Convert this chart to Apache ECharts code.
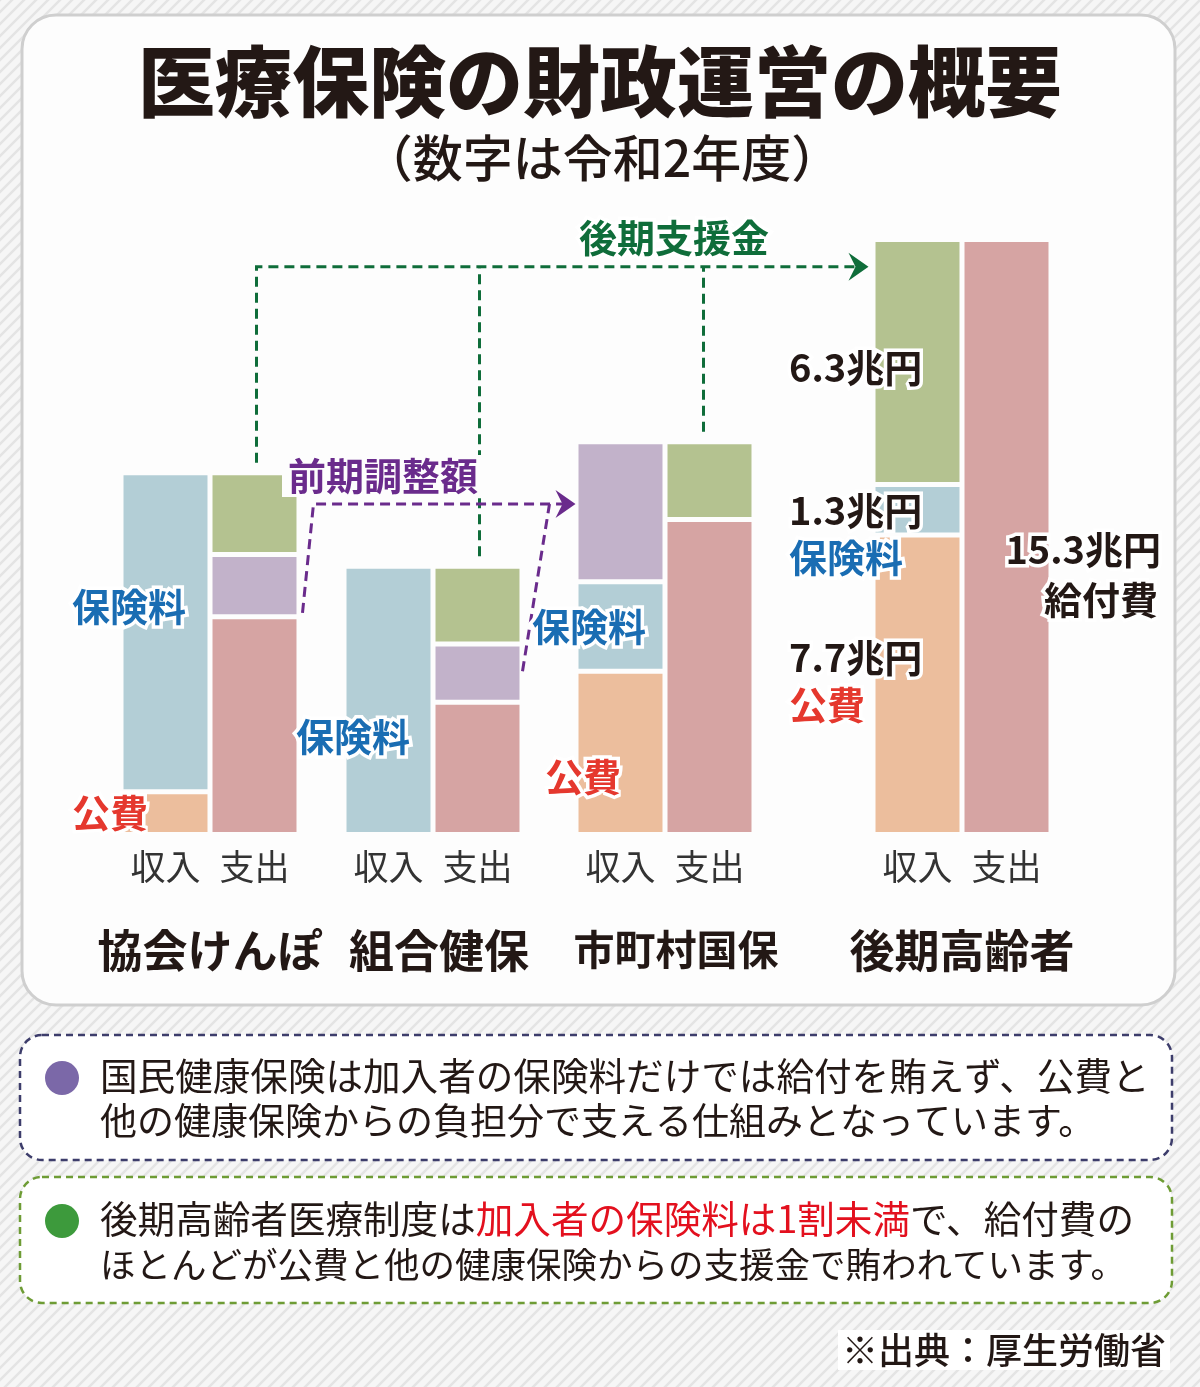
<!DOCTYPE html>
<html>
<head>
<meta charset="utf-8">
<script src="https://cdn.jsdelivr.net/npm/echarts@6/dist/echarts.min.js"></script>
<style>
  html, body { margin: 0; padding: 0; }
  #chart { width: 1200px; height: 1387px; }
</style>
</head>
<body>
<div id="chart"></div>
<script>
// 令和2年度, 単位: 兆円
const groups = ['協会けんぽ', '組合健保', '市町村国保', '後期高齢者']
const sides = ['収入', '支出']
const incPublic = [1.1, 0, 4.2, 7.7]     // 公費
const incPremium = [8.2, 6.9, 2.3, 1.3]  // 保険料
const incZenki = [0, 0, 3.6, 0]          // 前期調整額 (受取)
const incShien = [0, 0, 0, 6.3]          // 後期支援金 (受取)
const expBenefit = [5.6, 3.4, 8.1, 15.3] // 給付費
const expZenki = [1.6, 1.5, 0, 0]        // 前期調整額 (拠出)
const expShien = [2.1, 2.0, 2.0, 0]      // 後期支援金 (拠出)

const FONT = '"Noto Sans CJK JP", "Noto Sans", sans-serif'
const PEACH = '#ecbe9d', BLUE = '#b3ced6', PINK = '#d6a4a3', PURPLE = '#c2b2ca', GREEN = '#b4c290'
const TXT = '#231815', TBLUE = '#1a6db3', TRED = '#e5382e', TPURPLE = '#6a2b8c', TGREEN = '#0f6d3a'

const chart = echarts.init(document.getElementById('chart'))

// striped page background
const pc = document.createElement('canvas')
pc.width = 12; pc.height = 12
const pctx = pc.getContext('2d')
pctx.fillStyle = '#f6f6f6'
pctx.fillRect(0, 0, 12, 12)
pctx.strokeStyle = '#e4e4e4'
pctx.lineWidth = 2.5
;[[-6, 6, 6, -6], [0, 12, 12, 0], [6, 18, 18, 6]].forEach(l => {
  pctx.beginPath(); pctx.moveTo(l[0], l[1]); pctx.lineTo(l[2], l[3]); pctx.stroke()
})

const gridLeft = [121, 344, 576, 873]
const namePad = [[0, 0, 0, 0], [0, 0, 0, 12], [0, 0, 0, 22], [0, 0, 0, 0]]
const nameSize = [45, 45, 41, 45]
const val = v => (v > 0 ? v : '-')

const segments = [
  { color: PEACH, inc: incPublic, exp: null },
  { color: BLUE, inc: incPremium, exp: null },
  { color: PINK, inc: null, exp: expBenefit },
  { color: PURPLE, inc: incZenki, exp: expZenki },
  { color: GREEN, inc: incShien, exp: expShien }
]

let grid = [], xAxis = [], yAxis = [], series = []
groups.forEach((g, i) => {
  grid.push({
    left: gridLeft[i], width: 178, top: 239.5, bottom: 552.5,
    containLabel: false, outerBoundsMode: 'none'
  })
  xAxis.push({
    type: 'category', gridIndex: i, data: sides,
    axisLine: { show: false }, axisTick: { show: false },
    axisLabel: { fontSize: 35, color: '#333', margin: 15, interval: 0, fontFamily: FONT },
    name: g, nameLocation: 'middle', nameGap: 94,
    nameTextStyle: { fontSize: nameSize[i], fontWeight: 'bold', color: TXT, fontFamily: FONT, padding: namePad[i] }
  })
  yAxis.push({ type: 'value', gridIndex: i, min: 0, max: 15.3, show: false })
  segments.forEach(s => {
    series.push({
      type: 'bar', xAxisIndex: i, yAxisIndex: i, stack: 'g' + i,
      barWidth: 89, silent: true,
      data: [s.inc ? val(s.inc[i]) : '-', s.exp ? val(s.exp[i]) : '-'],
      itemStyle: { color: s.color, borderColor: '#fdfdfd', borderWidth: 2.5 }
    })
  })
})

chart.setOption({
  animation: false,
  backgroundColor: { image: pc, repeat: 'repeat' },
  grid: grid, xAxis: xAxis, yAxis: yAxis, series: series
})

// helpers for the annotation layer
const px = (i, side, v) => chart.convertToPixel({ gridIndex: i }, [side, v])
const txt = (text, x, y, size, fill, extra) => Object.assign({
  type: 'text', x: x, y: y, z: 100,
  style: Object.assign({
    text: text, fill: fill, align: 'left', verticalAlign: 'middle',
    font: 'bold ' + size + 'px ' + FONT
  }, extra || {})
})
const halo = { stroke: '#ffffff', lineWidth: 7 }
const dashLine = (pts, color) => ({
  type: 'polyline', z: 50, shape: { points: pts },
  style: { stroke: color, lineWidth: 3, lineDash: [10, 6], fill: null }
})
const arrowHead = (x, y, color) => ({
  type: 'polygon', z: 51,
  shape: { points: [[x, y], [x - 20, y - 14], [x - 13, y], [x - 20, y + 14]] },
  style: { fill: color }
})

const totalExp = i => expBenefit[i] + expZenki[i] + expShien[i]

// 後期支援金 arrows
const gY = px(3, '収入', 14.6)[1]
const gTip = px(3, '収入', 14.6)[0] - 42 - 7
const drops = [0, 1, 2].map(i => {
  const p = px(i, '支出', totalExp(i))
  return [p[0] + (i === 2 ? -6 : 2), p[1] - 10]
})
const greenLines = [
  dashLine([[drops[0][0], drops[0][1]], [drops[0][0], gY], [gTip - 12, gY]], TGREEN),
  dashLine([[drops[1][0], drops[1][1]], [drops[1][0], gY]], TGREEN),
  dashLine([[drops[2][0], drops[2][1]], [drops[2][0], gY]], TGREEN),
  arrowHead(gTip, gY, TGREEN)
]

// 前期調整額 arrows
const pY = px(2, '収入', 8.5)[1]
const pTip = px(2, '収入', 8.5)[0] - 42 - 3
const s1 = [px(0, '支出', 0)[0] + 48, px(0, '支出', 5.7)[1]]
const s2 = [px(1, '支出', 0)[0] + 45, px(1, '支出', 4.2)[1]]
const purpleLines = [
  dashLine([s1, [s1[0] + 11, pY], [pTip - 12, pY]], TPURPLE),
  dashLine([s2, [s2[0] + 27, pY]], TPURPLE),
  arrowHead(pTip, pY, TPURPLE)
]

const body = size => '400 ' + size + 'px ' + FONT

const graphic = [
  {
    type: 'rect', z: 0,
    shape: { x: 22, y: 15, width: 1153, height: 990, r: 34 },
    style: { fill: '#fdfdfd', stroke: '#cfcfcf', lineWidth: 3 }
  },
  txt('医療保険の財政運営の概要', 600, 82, 77, TXT, { align: 'center', font: '900 77px ' + FONT }),
  txt('（数字は令和2年度）', 602, 158, 50, TXT, { align: 'center', font: '500 50px ' + FONT }),
  ...greenLines,
  ...purpleLines,
  txt('後期支援金', 674, 238, 38, TGREEN, Object.assign({ align: 'center' }, halo)),
  txt('前期調整額', 383, 476, 38, TPURPLE, {
    align: 'center', backgroundColor: '#fdfdfd', padding: [2, 6, 2, 6]
  }),
  // 協会けんぽ
  txt('保険料', 72, 607, 38, TBLUE, halo),
  txt('公費', 72, 813, 38, TRED, halo),
  // 組合健保
  txt('保険料', 296, 737, 38, TBLUE, halo),
  // 市町村国保
  txt('保険料', 532, 627, 38, TBLUE, halo),
  txt('公費', 545, 777, 38, TRED, halo),
  // 後期高齢者
  txt('6.3兆円', 789, 368, 38, TXT, halo),
  txt('1.3兆円', 789, 511, 38, TXT, halo),
  txt('保険料', 789, 558, 38, TBLUE, halo),
  txt('7.7兆円', 789, 658, 38, TXT, halo),
  txt('公費', 789, 705, 38, TRED, halo),
  txt('15.3兆円', 1161, 550, 38, TXT, Object.assign({ align: 'right' }, halo)),
  txt('給付費', 1158, 600, 38, TXT, Object.assign({ align: 'right' }, halo)),
  // note boxes
  {
    type: 'rect', z: 0,
    shape: { x: 20, y: 1035, width: 1152, height: 125, r: 22 },
    style: { fill: '#ffffff', stroke: '#3d3d6b', lineWidth: 2.5, lineDash: [7, 5] }
  },
  { type: 'circle', z: 10, shape: { cx: 62, cy: 1078, r: 17 }, style: { fill: '#7b68a8' } },
  txt('国民健康保険は加入者の保険料だけでは給付を賄えず、公費と', 100, 1076, 37, TXT, { font: body(37.6) }),
  txt('他の健康保険からの負担分で支える仕組みとなっています。', 100, 1121, 37, TXT, { font: body(37) }),
  {
    type: 'rect', z: 0,
    shape: { x: 20, y: 1177, width: 1152, height: 126, r: 22 },
    style: { fill: '#ffffff', stroke: '#6e9c35', lineWidth: 2.5, lineDash: [7, 5] }
  },
  { type: 'circle', z: 10, shape: { cx: 62, cy: 1221, r: 17 }, style: { fill: '#3d9a3c' } },
  txt('後期高齢者医療制度は{r|加入者の保険料は1割未満}で、給付費の', 100, 1219, 37, TXT, {
    font: body(37.6),
    rich: { r: { fill: '#e3101e', font: body(37.6) } }
  }),
  txt('ほとんどが公費と他の健康保険からの支援金で賄われています。', 100, 1265, 36, TXT, { font: body(35.5) }),
  txt('※出典：厚生労働省', 1170, 1350, 36, TXT, {
    align: 'right', font: '500 36px ' + FONT, backgroundColor: '#ffffff', padding: [2, 4, 2, 4]
  })
]

chart.setOption({ graphic: graphic })
</script>
</body>
</html>
